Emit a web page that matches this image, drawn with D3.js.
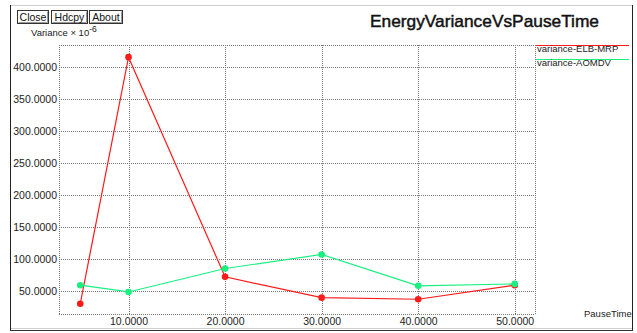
<!DOCTYPE html>
<html>
<head>
<meta charset="utf-8">
<script src="https://cdn.jsdelivr.net/npm/d3@7"></script>
<style>
  html, body { margin: 0; padding: 0; background: #ffffff; }
  svg { display: block; font-family: "Liberation Sans", Arial, Helvetica, sans-serif; }
</style>
</head>
<body>
<svg id="chart" width="637" height="333"></svg>
<script>
// Pause time values (x) shared by both series
const pauseTimes = [5, 10, 20, 30, 40, 50];
// Energy variance (× 10^-6) per protocol
const elbMrp = [30, 415, 72, 39.5, 37, 59];
const aomdv = [59, 48.4, 85, 107, 58, 61];
const seriesNames = ["variance-ELB-MRP", "variance-AOMDV"];
const seriesColors = ["#ff1a1a", "#19f080"];
const yTicks = [50, 100, 150, 200, 250, 300, 350, 400];
const xTicks = [10, 20, 30, 40, 50];
const buttons = ["Close", "Hdcpy", "About"];

const svg = d3.select("#chart");

// window frame
const frame = svg.append("g");
frame.append("line").attr("x1", 10).attr("x2", 633).attr("y1", 5.5).attr("y2", 5.5).attr("stroke", "#cfcfcf");
frame.append("line").attr("x1", 10.5).attr("x2", 10.5).attr("y1", 5).attr("y2", 331).attr("stroke", "#222");
frame.append("line").attr("x1", 632.5).attr("x2", 632.5).attr("y1", 5).attr("y2", 331).attr("stroke", "#222");
frame.append("line").attr("x1", 11).attr("x2", 632).attr("y1", 328.5).attr("y2", 328.5).attr("stroke", "#d0d0d0");
frame.append("line").attr("x1", 10).attr("x2", 633).attr("y1", 330.5).attr("y2", 330.5).attr("stroke", "#333");

// command buttons
const btnX = [17, 51, 89];
const btnW = [31, 36, 33];
buttons.forEach((b, i) => {
  const g = svg.append("g").attr("transform", `translate(${btnX[i]},10)`);
  g.append("rect").attr("x", 0.5).attr("y", 0.5).attr("width", btnW[i]).attr("height", 13)
    .attr("fill", "#fff").attr("stroke", "#333");
  g.append("line").attr("x1", 1.5).attr("x2", btnW[i] - 0.5).attr("y1", 12.5).attr("y2", 12.5).attr("stroke", "#999");
  g.append("line").attr("x1", btnW[i] - 0.5).attr("x2", btnW[i] - 0.5).attr("y1", 1.5).attr("y2", 12.5).attr("stroke", "#999");
  g.append("text").attr("x", btnW[i] / 2 + 0.5).attr("y", 10.5).attr("text-anchor", "middle")
    .attr("font-size", 10.5).attr("fill", "#111").text(b);
});

// title
svg.append("text").attr("x", 370).attr("y", 27).attr("font-size", 17)
  .attr("textLength", 229).attr("lengthAdjust", "spacingAndGlyphs")
  .attr("fill", "#111").attr("stroke", "#111").attr("stroke-width", 0.45)
  .text("EnergyVarianceVsPauseTime");

// y axis unit label
const yl = svg.append("text").attr("x", 31).attr("y", 36).attr("font-size", 9.5).attr("fill", "#222");
yl.append("tspan").text("Variance \u00d7 10");
yl.append("tspan").attr("dy", -4).attr("font-size", 8.5).text("-6");

// scales
const x = d3.scaleLinear().domain([2.8, 52.1]).range([59, 535]);
const y = d3.scaleLinear().domain([14, 434]).range([314, 45]);

// grid + plot border, dotted
const grid = svg.append("g").attr("stroke", "#777").attr("stroke-dasharray", "1,1").attr("stroke-width", 1);
[...yTicks.map(y), y.range()[0], y.range()[1]].forEach(py => {
  const yy = Math.round(py) + 0.5;
  grid.append("line").attr("x1", 59).attr("x2", 535).attr("y1", yy).attr("y2", yy);
});
[...xTicks.map(x), x.range()[0], x.range()[1]].forEach(px => {
  const xx = Math.round(px) + 0.5;
  grid.append("line").attr("x1", xx).attr("x2", xx).attr("y1", 45).attr("y2", 314);
});

// axes (labels only)
const yAxis = d3.axisLeft(y).tickValues(yTicks).tickFormat(d3.format(".4f")).tickSize(0).tickPadding(2);
const gy = svg.append("g").attr("transform", "translate(59,0)").call(yAxis);
gy.select(".domain").remove();
gy.selectAll("text").attr("font-size", 10.5).attr("fill", "#222").attr("font-family", "Liberation Sans, Arial, sans-serif");

const xAxis = d3.axisBottom(x).tickValues(xTicks).tickFormat(d3.format(".4f")).tickSize(0).tickPadding(4);
const gx = svg.append("g").attr("transform", "translate(0,314)").call(xAxis);
gx.select(".domain").remove();
gx.selectAll("text").attr("font-size", 10.5).attr("fill", "#222").attr("font-family", "Liberation Sans, Arial, sans-serif");

svg.append("text").attr("x", 584).attr("y", 317).attr("font-size", 9.5).attr("fill", "#222").text("PauseTime");

// series lines and markers
const allSeries = [elbMrp, aomdv];
const line = d3.line().x(d => x(d[0])).y(d => y(d[1]));
allSeries.forEach((vals, i) => {
  const pts = pauseTimes.map((t, j) => [t, vals[j]]);
  svg.append("path").datum(pts).attr("d", line).attr("fill", "none")
    .attr("stroke", seriesColors[i]).attr("stroke-width", 1.2);
  svg.append("g").selectAll("circle").data(pts).join("circle")
    .attr("cx", d => x(d[0])).attr("cy", d => y(d[1])).attr("r", 3.3)
    .attr("fill", seriesColors[i]);
});

// legend
seriesNames.forEach((name, i) => {
  const ly = 45 + i * 14;
  svg.append("line").attr("x1", 536).attr("x2", 629).attr("y1", ly + 0.5).attr("y2", ly + 0.5)
    .attr("stroke", seriesColors[i]).attr("stroke-width", 1.2);
  svg.append("text").attr("x", 537).attr("y", ly + 6.5).attr("font-size", 9.5).attr("fill", "#222").text(name);
});
</script>
</body>
</html>
